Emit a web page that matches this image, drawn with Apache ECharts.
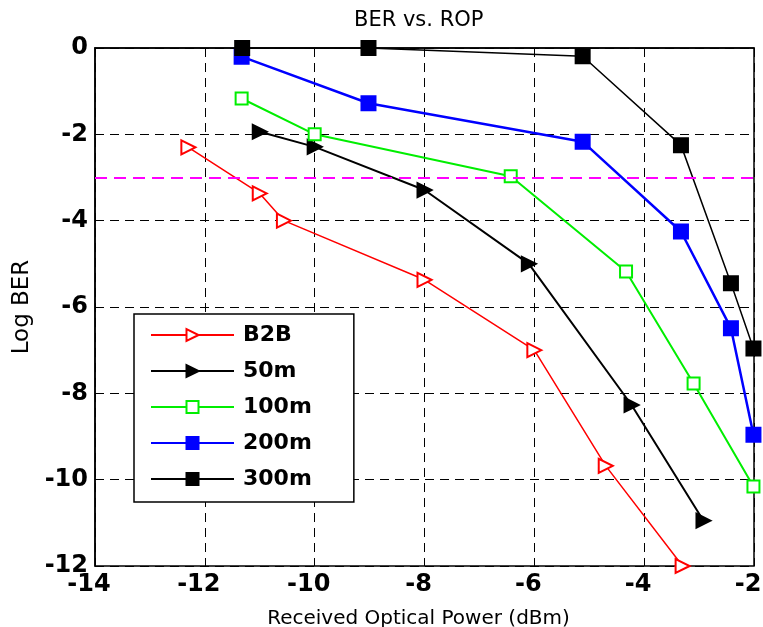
<!DOCTYPE html>
<html>
<head>
<meta charset="utf-8">
<script src="https://cdn.jsdelivr.net/npm/echarts@6/dist/echarts.min.js"></script>
<style>
  html, body { margin: 0; padding: 0; background: #fff; }
  #chart { width: 763px; height: 627px; }
</style>
</head>
<body>
<div id="chart"></div>
<script>
// data: [ROP (dBm), log BER]
const b2b = [[-12.3, -2.3], [-11.0, -3.37], [-10.56, -4.0], [-8.0, -5.37], [-6.0, -7.0], [-4.7, -9.68], [-3.3, -12.0]]
const m50 = [[-11.0, -1.94], [-10.0, -2.29], [-8.0, -3.29], [-6.1, -5.0], [-4.23, -8.27], [-2.92, -10.95]]
const m100 = [[-11.33, -1.17], [-10.0, -2.0], [-6.43, -2.97], [-4.33, -5.18], [-3.1, -7.77], [-2.01, -10.16]]
const m200 = [[-11.33, -0.2], [-9.02, -1.28], [-5.12, -2.17], [-3.33, -4.25], [-2.42, -6.49], [-2.01, -8.96]]
const m300 = [[-11.32, 0], [-9.02, 0], [-5.12, -0.19], [-3.33, -2.25], [-2.42, -5.45], [-2.01, -6.96]]
const fecLimit = -3

const font = 'DejaVu Sans, Verdana, sans-serif'

function line (name, data, color, symbol, size, width, extra) {
  return Object.assign({
    name: name,
    type: 'line',
    data: data,
    symbol: symbol,
    symbolSize: size,
    showAllSymbol: true,
    lineStyle: { color: color, width: width },
    itemStyle: { color: color, borderColor: color, borderWidth: 2 },
    emphasis: { disabled: true },
    z: 3
  }, extra || {})
}

const option = {
  animation: false,
  backgroundColor: '#fff',
  title: {
    text: 'BER vs. ROP',
    left: 354,
    top: 10,
    padding: 0,
    textStyle: { fontFamily: font, fontSize: 21, fontWeight: 'normal', color: '#000' }
  },
  grid: {
    left: 95,
    right: 9,
    top: 48,
    bottom: 61,
    outerBoundsMode: 'none',
    show: true,
    borderColor: '#000',
    borderWidth: 1.5
  },
  legend: {
    orient: 'vertical',
    left: 134,
    top: 314,
    padding: [10, 42, 12, 16],
    itemGap: 14,
    itemWidth: 83,
    itemHeight: 15,
    borderColor: '#000',
    borderWidth: 1.5,
    backgroundColor: '#fff',
    textStyle: { fontFamily: font, fontSize: 22, lineHeight: 22, fontWeight: 'bold', color: '#000', padding: [0, 0, 0, 4] },
    data: ['B2B', '50m', '100m', '200m', '300m']
  },
  xAxis: {
    type: 'value',
    min: -14,
    max: -2,
    interval: 2,
    name: 'Received Optical Power (dBm)',
    nameLocation: 'middle',
    nameGap: 43,
    nameTextStyle: { fontFamily: font, fontSize: 20, color: '#000', padding: [0, 12, 0, 0] },
    axisLine: { show: true, lineStyle: { color: '#000', width: 1.5 } },
    axisTick: { show: false },
    axisLabel: { fontFamily: font, fontSize: 24, fontWeight: 'bold', color: '#000', margin: 7, padding: [0, 12, 0, 0] },
    splitLine: { show: true, lineStyle: { color: '#000', type: [9, 6], width: 1 } }
  },
  yAxis: {
    type: 'value',
    min: -12,
    max: 0,
    interval: 2,
    name: 'Log BER',
    nameLocation: 'middle',
    nameGap: 61,
    nameTextStyle: { fontFamily: font, fontSize: 23, color: '#000' },
    axisLine: { show: true, lineStyle: { color: '#000', width: 1.5 } },
    axisTick: { show: false },
    axisLabel: { fontFamily: font, fontSize: 24, fontWeight: 'bold', color: '#000', margin: 7 },
    splitLine: { show: true, lineStyle: { color: '#000', type: [9, 6], width: 1 } }
  },
  series: [
    line('B2B', b2b, '#ff0000', 'emptyTriangle', 14, 1.5, {
      symbolRotate: -90,
      markLine: {
        silent: true,
        symbol: 'none',
        label: { show: false },
        lineStyle: { color: '#ff00ff', type: [12, 7], width: 2 },
        data: [{ yAxis: fecLimit }]
      }
    }),
    line('50m', m50, '#000000', 'triangle', 14, 2, { symbolRotate: -90 }),
    line('100m', m100, '#00ee00', 'emptyRect', 12, 2),
    line('200m', m200, '#0000ff', 'rect', 14, 2.5),
    line('300m', m300, '#000000', 'rect', 14, 1.5)
  ]
}

const myChart = echarts.init(document.getElementById('chart'))
myChart.setOption(option)
</script>
</body>
</html>
